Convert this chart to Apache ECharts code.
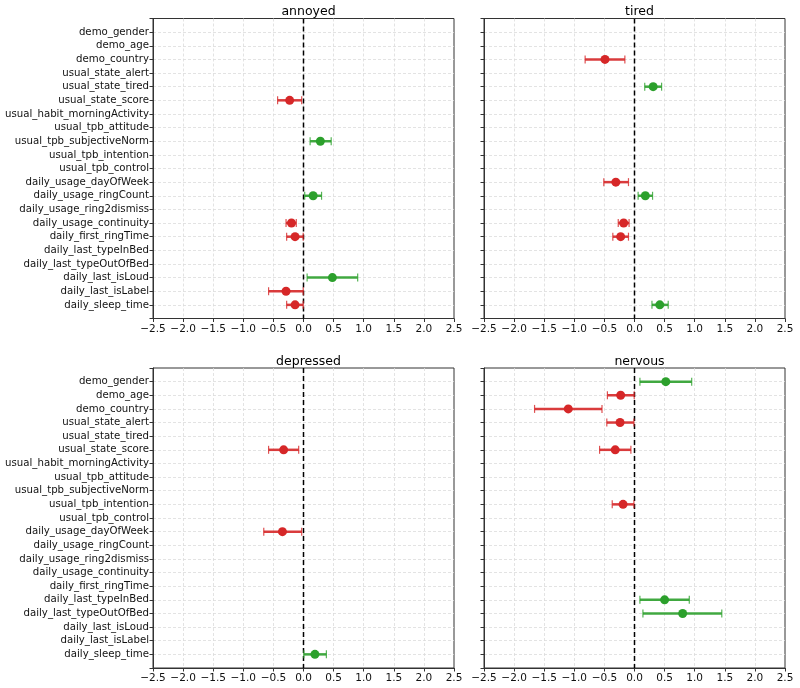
<!DOCTYPE html>
<html>
<head>
<meta charset="utf-8">
<script src="https://cdn.jsdelivr.net/npm/echarts@6/dist/echarts.min.js"></script>
<style>html,body{margin:0;padding:0;background:#fff}#chart{width:800px;height:688px}</style>
</head>
<body>
<div id="chart"></div>
<script>
const categories = ['demo_gender','demo_age','demo_country','usual_state_alert','usual_state_tired','usual_state_score','usual_habit_morningActivity','usual_tpb_attitude','usual_tpb_subjectiveNorm','usual_tpb_intention','usual_tpb_control','daily_usage_dayOfWeek','daily_usage_ringCount','daily_usage_ring2dismiss','daily_usage_continuity','daily_first_ringTime','daily_last_typeInBed','daily_last_typeOutOfBed','daily_last_isLoud','daily_last_isLabel','daily_sleep_time'];
const xTicks = [-2.5,-2.0,-1.5,-1.0,-0.5,0.0,0.5,1.0,1.5,2.0,2.5];

const annoyedVars = ['usual_state_score','usual_tpb_subjectiveNorm','daily_usage_ringCount','daily_usage_continuity','daily_first_ringTime','daily_last_isLoud','daily_last_isLabel','daily_sleep_time'];
const annoyedCoef = [-0.23, 0.28, 0.16, -0.20, -0.14, 0.48, -0.29, -0.14];
const annoyedLo   = [-0.43, 0.11, 0.02, -0.29, -0.28, 0.06, -0.58, -0.28];
const annoyedHi   = [-0.03, 0.46, 0.30, -0.12, -0.005, 0.90, -0.005, -0.005];

const tiredVars = ['demo_country','usual_state_tired','daily_usage_dayOfWeek','daily_usage_ringCount','daily_usage_continuity','daily_first_ringTime','daily_sleep_time'];
const tiredCoef = [-0.49, 0.31, -0.31, 0.18, -0.18, -0.23, 0.42];
const tiredLo   = [-0.82, 0.17, -0.51, 0.06, -0.27, -0.36, 0.29];
const tiredHi   = [-0.16, 0.45, -0.10, 0.30, -0.09, -0.10, 0.56];

const depressedVars = ['usual_state_score','daily_usage_dayOfWeek','daily_sleep_time'];
const depressedCoef = [-0.33, -0.35, 0.19];
const depressedLo   = [-0.58, -0.66, 0.005];
const depressedHi   = [-0.08, -0.03, 0.38];

const nervousVars = ['demo_gender','demo_age','demo_country','usual_state_alert','usual_state_score','usual_tpb_intention','daily_last_typeInBed','daily_last_typeOutOfBed'];
const nervousCoef = [0.52, -0.23, -1.10, -0.24, -0.32, -0.19, 0.50, 0.80];
const nervousLo   = [0.09, -0.45, -1.66, -0.46, -0.58, -0.37, 0.09, 0.14];
const nervousHi   = [0.95, -0.005, -0.54, -0.01, -0.06, -0.01, 0.91, 1.45];

const panels = [
  {title:'annoyed', vars:annoyedVars, coef:annoyedCoef, lo:annoyedLo, hi:annoyedHi},
  {title:'tired', vars:tiredVars, coef:tiredCoef, lo:tiredLo, hi:tiredHi},
  {title:'depressed', vars:depressedVars, coef:depressedCoef, lo:depressedLo, hi:depressedHi},
  {title:'nervous', vars:nervousVars, coef:nervousCoef, lo:nervousLo, hi:nervousHi}
];

const RED = '#d62728', GREEN = '#2ca02c';
const FONT = 'DejaVu Sans';
const gridPos = [
  {left:153, top:18.5},
  {left:484, top:18.5},
  {left:153, top:368},
  {left:484, top:368}
];
const GW = 301, GH = 300;

const chart = echarts.init(document.getElementById('chart'), null, {renderer:'canvas'});

const grids = [], xAxes = [], yAxes = [], titles = [], series = [];
const splitStyle = {show:true, showMinLine:false, showMaxLine:false, lineStyle:{type:[3,2], color:'#dcdcdc', width:0.8}};
panels.forEach((p, i) => {
  const g = gridPos[i];
  grids.push({left:g.left, top:g.top, width:GW, height:GH, show:true, borderColor:'#333', borderWidth:1, backgroundColor:'transparent', containLabel:false});
  titles.push({text:p.title, left:g.left + GW/2, top:g.top - 18, textAlign:'center',
    textStyle:{fontFamily:FONT, fontSize:12.5, fontWeight:'normal', color:'#000'}});
  xAxes.push({gridIndex:i, type:'value', min:xTicks[0], max:xTicks[xTicks.length-1], interval:0.5,
    axisLine:{show:true, onZero:false, lineStyle:{color:'#333', width:1}},
    axisTick:{show:true, length:3.5, lineStyle:{color:'#333'}},
    axisLabel:{show:true, margin:5, fontFamily:FONT, fontSize:10.5, color:'#111',
      formatter:v => (v < 0 ? '\u2212' + Math.abs(v).toFixed(1) : v.toFixed(1))},
    splitLine:splitStyle});
  yAxes.push({gridIndex:i, type:'value', inverse:true, min:-1, max:21, interval:1,
    axisLine:{show:true, onZero:false, lineStyle:{color:'#333', width:1}},
    axisTick:{show:true, length:3.5, lineStyle:{color:'#333'}},
    axisLabel:{show:(i % 2 === 0), margin:4, fontFamily:FONT, fontSize:10.2, color:'#111',
      formatter:v => (Number.isInteger(v) && v >= 0 && v < categories.length ? categories[v] : '')},
    splitLine:splitStyle});

  series.push({type:'line', xAxisIndex:i, yAxisIndex:i, data:[[0,-1],[0,21]], symbol:'none', silent:true, z:2,
    lineStyle:{color:'#000', width:1.5, type:[5,3]}});

  const rows = p.vars.map((v, k) => [p.coef[k], categories.indexOf(v), p.lo[k], p.hi[k]]);
  series.push({type:'custom', xAxisIndex:i, yAxisIndex:i, data:rows, z:3, silent:true,
    encode:{x:[0,2,3], y:1},
    renderItem:(params, api) => {
      const c = api.value(0) > 0 ? GREEN : RED;
      const y = api.value(1);
      const a = api.coord([api.value(2), y]);
      const b = api.coord([api.value(3), y]);
      const st = {stroke:c, lineWidth:2.5, opacity:0.9};
      const cs = {stroke:c, lineWidth:1.2, opacity:0.8};
      return {type:'group', children:[
        {type:'line', shape:{x1:a[0], y1:a[1], x2:b[0], y2:b[1]}, style:st},
        {type:'line', shape:{x1:a[0], y1:a[1]-4, x2:a[0], y2:a[1]+4}, style:cs},
        {type:'line', shape:{x1:b[0], y1:b[1]-4, x2:b[0], y2:b[1]+4}, style:cs}
      ]};
    }});
  series.push({type:'scatter', xAxisIndex:i, yAxisIndex:i, z:4, symbol:'circle', symbolSize:9, silent:true,
    data:rows.map(r => [r[0], r[1]]),
    itemStyle:{opacity:1, color:params => (params.value[0] > 0 ? GREEN : RED)}});
});

chart.setOption({
  animation:false,
  backgroundColor:'#fff',
  title:titles,
  grid:grids,
  xAxis:xAxes,
  yAxis:yAxes,
  series:series
});
</script>
</body>
</html>
